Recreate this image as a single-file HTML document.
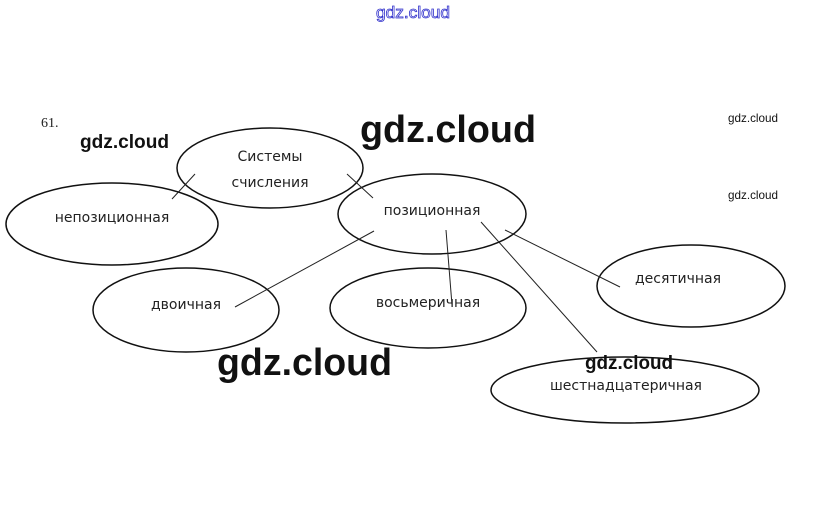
<!DOCTYPE html>
<html><head><meta charset="utf-8"><style>
html,body{margin:0;padding:0;background:#fff;width:827px;height:531px;overflow:hidden}
svg{display:block}
.l{font-family:"DejaVu Sans","Liberation Sans",sans-serif;font-size:14px;fill:#222}
.w{font-family:"Liberation Sans",sans-serif;font-weight:bold;fill:#111}
.s{font-family:"Liberation Sans",sans-serif;fill:#111;font-size:12px}
</style></head><body>
<svg width="827" height="531" viewBox="0 0 827 531" xmlns="http://www.w3.org/2000/svg">
<rect width="827" height="531" fill="#fff"/>
<text x="376" y="18" font-family="Liberation Sans,sans-serif" font-size="17" fill="#fff" stroke="#3333cc" stroke-width="0.8" textLength="74" lengthAdjust="spacingAndGlyphs">gdz.cloud</text>
<text x="41" y="127" font-family="Liberation Serif,serif" font-size="14" fill="#222">61.</text>
<g fill="none" stroke="#111" stroke-width="1.5">
<ellipse cx="270" cy="168" rx="93" ry="40"/>
<ellipse cx="112" cy="224" rx="106" ry="41"/>
<ellipse cx="432" cy="214" rx="94" ry="40"/>
<ellipse cx="186" cy="310" rx="93" ry="42"/>
<ellipse cx="428" cy="308" rx="98" ry="40"/>
<ellipse cx="691" cy="286" rx="94" ry="41"/>
<ellipse cx="625" cy="390" rx="134" ry="33"/>
</g>
<g stroke="#222" stroke-width="1">
<line x1="195" y1="174" x2="172" y2="199"/>
<line x1="347" y1="174" x2="373" y2="198"/>
<line x1="374" y1="231" x2="235" y2="307"/>
<line x1="446" y1="230" x2="452" y2="305"/>
<line x1="481" y1="222" x2="597" y2="352"/>
<line x1="505" y1="230" x2="620" y2="287"/>
</g>
<text class="l" x="270" y="161" text-anchor="middle">Системы</text>
<text class="l" x="270" y="187" text-anchor="middle">счисления</text>
<text class="l" x="112" y="222" text-anchor="middle">непозиционная</text>
<text class="l" x="432" y="215" text-anchor="middle">позиционная</text>
<text class="l" x="186" y="309" text-anchor="middle" fill="#555">двоичная</text>
<text class="l" x="428" y="307" text-anchor="middle" fill="#555">восьмеричная</text>
<text class="l" x="678" y="283" text-anchor="middle" fill="#555">десятичная</text>
<text class="l" x="626" y="390" text-anchor="middle">шестнадцатеричная</text>
<text class="w" x="80" y="148" font-size="19" textLength="89" lengthAdjust="spacingAndGlyphs">gdz.cloud</text>
<text class="w" x="360" y="142" font-size="38" textLength="176" lengthAdjust="spacingAndGlyphs">gdz.cloud</text>
<text class="w" x="217" y="375" font-size="38" textLength="175" lengthAdjust="spacingAndGlyphs">gdz.cloud</text>
<text class="w" x="585" y="369" font-size="19" textLength="88" lengthAdjust="spacingAndGlyphs">gdz.cloud</text>
<text class="s" x="728" y="122" textLength="50" lengthAdjust="spacingAndGlyphs">gdz.cloud</text>
<text class="s" x="728" y="199" textLength="50" lengthAdjust="spacingAndGlyphs">gdz.cloud</text>
</svg>
</body></html>
